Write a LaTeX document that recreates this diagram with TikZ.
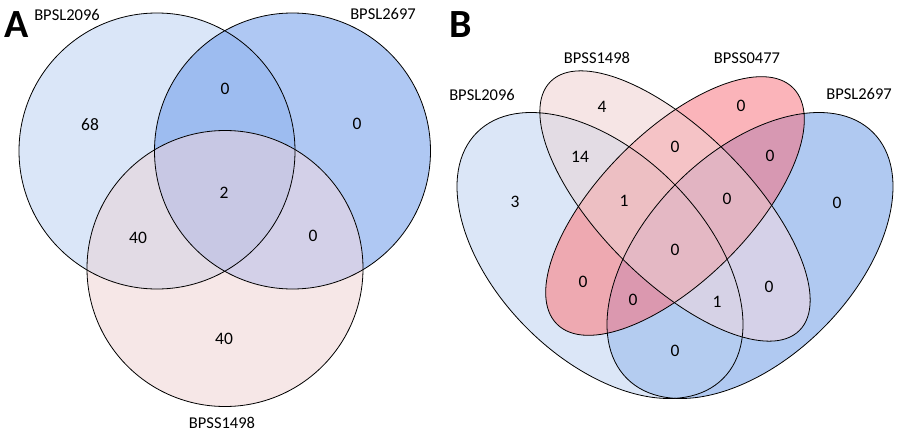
\documentclass[tikz,border=0pt]{standalone}
\usepackage{fontspec}
\setmainfont{Carlito}
% panel A colours
\definecolor{aW}{HTML}{DAE6F8}
\definecolor{aZ}{HTML}{AFC8F3}
\definecolor{aX}{HTML}{F6E7E7}
\definecolor{aWZ}{HTML}{9DBCF0}
\definecolor{aWX}{HTML}{E2DBE5}
\definecolor{aXZ}{HTML}{D3D0E8}
\definecolor{aWXZ}{HTML}{C8C8E4}
% panel B colours
\definecolor{bW}{HTML}{DBE6F7}
\definecolor{bX}{HTML}{F6E5E5}
\definecolor{bY}{HTML}{FBB4BA}
\definecolor{bZ}{HTML}{B0C9F1}
\definecolor{bWX}{HTML}{E3DCE4}
\definecolor{bWY}{HTML}{EEA9B1}
\definecolor{bWZ}{HTML}{B4CCF0}
\definecolor{bXY}{HTML}{F5C3C6}
\definecolor{bXZ}{HTML}{D5D1E8}
\definecolor{bYZ}{HTML}{D798B2}
\definecolor{bWXY}{HTML}{EDBFC3}
\definecolor{bWXZ}{HTML}{D6D2E6}
\definecolor{bWYZ}{HTML}{DB98AF}
\definecolor{bXYZ}{HTML}{E2B4C2}
\definecolor{bWXYZ}{HTML}{E4B8C4}
% panel A circles
\newcommand{\cirW}[1]{\path[#1] (157,151) circle [radius=138pt];}
\newcommand{\cirZ}[1]{\path[#1] (292.5,151) circle [radius=138pt];}
\newcommand{\cirX}[1]{\path[#1] (225,268.5) circle [radius=138pt];}
% panel B ellipses
\newcommand{\elW}[1]{\path[#1, rotate around={-45:(600,255.5)}] (600,255.5) ellipse [x radius=174pt, y radius=103pt];}
\newcommand{\elX}[1]{\path[#1, rotate around={-45:(675,206)}] (675,206) ellipse [x radius=176pt, y radius=74.5pt];}
\newcommand{\elY}[1]{\path[#1, rotate around={45:(675,206)}] (675,206) ellipse [x radius=167pt, y radius=74.5pt];}
\newcommand{\elZ}[1]{\path[#1, rotate around={45:(750,255.5)}] (750,255.5) ellipse [x radius=174pt, y radius=103pt];}
\begin{document}
\begin{tikzpicture}[x=1pt, y=-1pt,
  lbl/.style={font=\fontsize{16.5}{19}\selectfont, inner sep=0pt},
  num/.style={font=\fontsize{17.5}{20}\selectfont, inner sep=0pt},
  outline/.style={draw=black, line width=0.8pt},
  panel/.style={font=\fontsize{40}{44}\selectfont\bfseries, inner sep=0pt}]
\fill[white] (0,0) rectangle (900,434);
\useasboundingbox (0,0) rectangle (900,434);

% ---------------- Panel A ----------------
\cirW{fill=aW}
\cirZ{fill=aZ}
\cirX{fill=aX}
\begin{scope}\cirW{clip}\cirZ{fill=aWZ}\end{scope}
\begin{scope}\cirW{clip}\cirX{fill=aWX}\end{scope}
\begin{scope}\cirZ{clip}\cirX{fill=aXZ}\end{scope}
\begin{scope}\cirW{clip}\cirZ{clip}\cirX{fill=aWXZ}\end{scope}
\cirW{outline}
\cirZ{outline}
\cirX{outline}

\node[panel] (pa) at (17,25) {A};
\node[lbl] (la1) at (67,15) {BPSL2096};
\node[lbl] (la2) at (383,14) {BPSL2697};
\node[lbl] (la3) at (222,423) {BPSS1498};
\node[num] (na1) at (90,125) {68};
\node[num] (na2) at (225,89) {0};
\node[num] (na3) at (357,124) {0};
\node[num] (na4) at (224,193) {2};
\node[num] (na5) at (138,238) {40};
\node[num] (na6) at (313,236) {0};
\node[num] (na7) at (224,339) {40};

% ---------------- Panel B ----------------
\elW{fill=bW}
\elX{fill=bX}
\elY{fill=bY}
\elZ{fill=bZ}
\begin{scope}\elW{clip}\elX{fill=bWX}\end{scope}
\begin{scope}\elW{clip}\elY{fill=bWY}\end{scope}
\begin{scope}\elW{clip}\elZ{fill=bWZ}\end{scope}
\begin{scope}\elX{clip}\elY{fill=bXY}\end{scope}
\begin{scope}\elX{clip}\elZ{fill=bXZ}\end{scope}
\begin{scope}\elY{clip}\elZ{fill=bYZ}\end{scope}
\begin{scope}\elW{clip}\elX{clip}\elY{fill=bWXY}\end{scope}
\begin{scope}\elW{clip}\elX{clip}\elZ{fill=bWXZ}\end{scope}
\begin{scope}\elW{clip}\elY{clip}\elZ{fill=bWYZ}\end{scope}
\begin{scope}\elX{clip}\elY{clip}\elZ{fill=bXYZ}\end{scope}
\begin{scope}\elW{clip}\elX{clip}\elY{clip}\elZ{fill=bWXYZ}\end{scope}
\elW{outline}
\elX{outline}
\elY{outline}
\elZ{outline}

\node[panel] (pb) at (461,25) {B};
\node[lbl] (lb1) at (482,95) {BPSL2096};
\node[lbl] (lb2) at (597,58) {BPSS1498};
\node[lbl] (lb3) at (747,58) {BPSS0477};
\node[lbl] (lb4) at (859,94) {BPSL2697};
\node[num] (nb1) at (602,107) {4};
\node[num] (nb2) at (741,106) {0};
\node[num] (nb3) at (580,157) {14};
\node[num] (nb4) at (675,147) {0};
\node[num] (nb5) at (770,156) {0};
\node[num] (nb6) at (515,202) {3};
\node[num] (nb7) at (624,201) {1};
\node[num] (nb8) at (727,199) {0};
\node[num] (nb9) at (837,203) {0};
\node[num] (nb10) at (675,250) {0};
\node[num] (nb11) at (583,282) {0};
\node[num] (nb12) at (633,300) {0};
\node[num] (nb13) at (717,302) {1};
\node[num] (nb14) at (769,287) {0};
\node[num] (nb15) at (675,351) {0};
\end{tikzpicture}
\end{document}
